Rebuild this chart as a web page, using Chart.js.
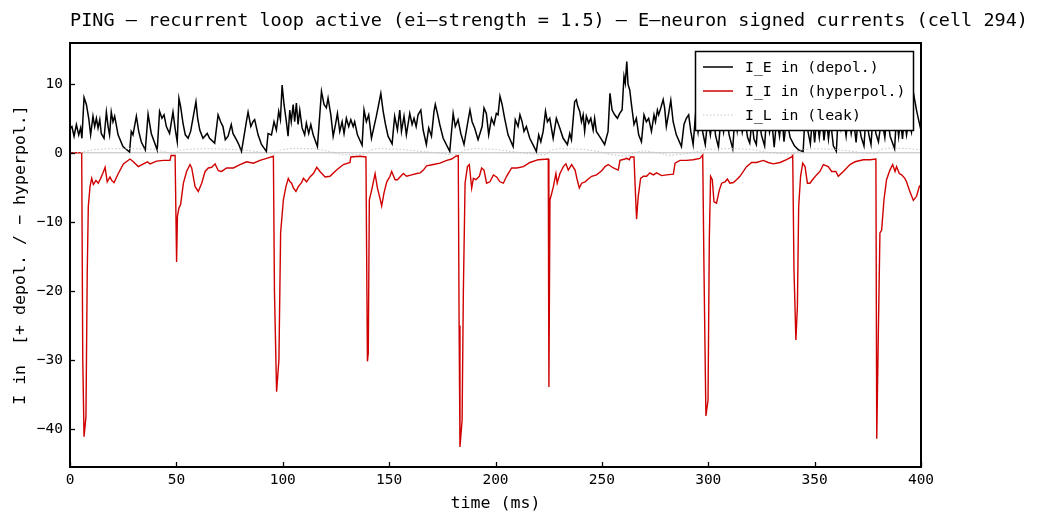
<!DOCTYPE html>
<html>
<head>
<meta charset="utf-8">
<script src="https://cdn.jsdelivr.net/npm/chart.js@4.4.1/dist/chart.umd.min.js"></script>
<style>
  html, body { margin: 0; padding: 0; background: #fff; }
  #wrap { width: 1039px; height: 525px; }
</style>
</head>
<body>
<div id="wrap"><canvas id="chart" width="1039" height="525"></canvas></div>
<script>
const xTicks = [0, 50, 100, 150, 200, 250, 300, 350, 400];
const yTicks = [-40, -30, -20, -10, 0, 10];

// I_E (depol.) - time (ms) / current
const ieTime = [0,0.9,1.9,3.0,4.1,5.0,5.6,6.6,7.7,8.8,9.7,10.8,11.6,12.4,13.2,14.0,14.7,16.0,17.1,17.9,18.6,19.4,20.2,21.0,22.6,24.9,28.0,28.8,29.6,31.2,32.3,33.5,35.4,36.7,38.2,41.0,42.1,43.2,44.2,45.3,46.8,48.4,49.5,50.4,51.2,52.0,53.1,54.2,55.5,56.7,59.2,60.0,61.0,62.5,64.5,65.6,68.0,69.6,70.8,71.9,73.0,74.3,75.8,76.6,78.2,79.2,80.6,81.8,82.9,83.7,85.0,86.0,86.8,88.4,90.0,92.3,93.1,94.7,95.9,97.0,98.1,98.9,99.7,100.6,101.7,102.5,103.3,104.0,104.9,105.6,106.4,107.2,108.0,109.1,110.3,111.1,112.2,113.2,114.3,116.3,117.4,118.2,119.4,120.5,121.3,122.6,123.7,124.8,125.7,126.8,127.9,128.8,129.9,131.0,132.0,133.1,133.8,135.1,137.3,138.2,139.3,140.4,141.7,142.9,144.0,145.1,146.1,147.2,148.3,149.5,151.4,152.6,153.9,155.0,155.8,157.0,158.1,159.7,160.8,161.7,162.7,163.6,164.9,166.0,167.5,168.6,169.9,171.1,171.7,172.7,173.8,175.4,178.5,180.1,181.1,182.4,183.7,185.2,186.8,188.0,189.0,190.2,191.8,193.7,194.6,195.7,196.8,198.1,199.3,200.4,201.2,202.1,203.1,204.3,205.9,208.3,209.3,210.6,211.5,212.5,213.4,214.5,216.1,219.2,220.3,221.3,222.4,223.5,224.4,225.5,227.1,228.6,230.2,231.8,233.8,234.9,235.7,237.2,238.0,238.6,239.6,240.4,241.2,241.9,242.7,243.8,244.8,245.9,246.6,247.4,249.5,251.3,252.9,253.8,254.8,256.0,257.3,258.4,259.5,260.4,261.0,261.7,262.3,263.1,263.9,265.1,266.2,267.3,268.6,269.8,270.9,272.0,273.3,274.5,275.2,276.1,276.7,277.7,278.8,279.5,280.3,281.4,282.4,283.5,285.0,287.4,288.6,289.7,290.8,291.8,292.9,294.0,295.2,296.3,297.5,298.6,299.8,301.0,302.2,303.5,304.8,306.0,307.2,308.3,309.8,311.5,312.6,313.6,314.7,316.0,317.2,318.5,319.5,320.5,321.5,322.6,323.6,325.0,326.5,327.5,328.8,329.8,331.0,332.2,333.5,334.6,335.6,336.8,338.5,340.5,342.5,344.6,345.6,346.8,348.0,349.0,350.0,351.0,352.2,353.4,354.4,355.5,356.5,357.5,358.8,360.2,361.2,362.4,363.5,364.8,366.0,367.2,368.3,369.5,370.5,371.8,373.2,374.2,375.5,376.5,377.5,378.8,380.0,381.5,383.0,384.0,385.5,387.6,388.5,389.5,390.4,391.3,392.2,393.2,394.2,395.5,396.6,398.0,400.0];
const ieValues = [3.5,3.8,2.4,4.1,2.6,3.6,2.1,8.0,7.0,5.0,2.6,5.3,3.8,5.0,3.6,4.8,2.8,2.1,5.9,3.8,2.6,5.9,4.5,5.3,2.6,0.9,0.1,3.1,2.6,5.3,3.1,1.6,0.4,5.6,2.8,0.4,6.0,5.0,5.5,3.8,2.8,5.9,3.3,1.6,7.9,6.7,4.3,2.6,2.1,3.1,7.4,5.0,3.3,2.1,2.8,2.1,1.4,5.5,4.5,3.8,1.9,2.4,4.1,2.8,1.9,1.3,0.2,2.4,4.5,5.9,3.8,4.5,4.8,2.6,1.2,0.2,2.8,2.6,4.5,3.3,6.0,4.8,9.8,7.0,4.5,2.4,6.2,4.5,7.0,4.5,7.2,4.1,6.2,3.6,2.6,4.3,2.8,4.1,2.6,0.9,5.5,8.9,7.0,6.5,7.9,5.5,2.4,4.1,5.7,3.1,4.5,2.8,5.0,3.8,4.8,3.8,4.5,2.6,1.1,6.2,4.5,5.5,2.1,3.8,5.3,7.0,8.6,6.0,4.1,2.4,1.3,5.3,3.3,6.2,3.1,5.3,2.6,5.7,4.1,5.0,3.8,5.5,6.2,3.3,1.2,3.6,2.4,6.0,7.0,5.7,4.1,2.1,0.2,5.7,3.8,4.8,2.8,1.2,4.1,6.2,4.5,3.6,1.9,3.8,6.5,5.7,2.6,5.0,4.1,5.7,5.5,8.2,7.0,5.0,2.6,0.9,4.8,3.8,5.5,4.5,3.1,3.8,2.1,0.2,2.6,1.6,3.1,6.0,4.5,5.0,2.1,5.0,3.6,2.1,1.2,2.8,1.9,7.4,7.7,6.8,6.0,4.5,5.5,3.1,5.3,4.3,5.0,3.3,5.0,3.1,2.1,1.2,3.1,8.6,6.2,5.5,5.0,5.7,6.2,11.1,10.1,13.2,9.9,9.1,7.0,4.1,5.0,2.6,1.6,5.5,4.5,5.0,3.1,5.5,4.5,6.2,5.5,6.5,7.7,6.5,3.8,5.7,7.6,4.5,2.6,0.9,4.1,5.0,5.5,3.1,1.2,5.5,3.0,6.0,2.8,1.2,5.0,2.6,5.5,2.4,0.8,5.2,3.0,6.0,2.6,0.6,5.5,3.2,6.3,3.0,5.0,2.2,1.4,4.5,2.0,1.2,5.5,2.6,1.0,5.8,3.0,4.8,0.8,5.0,2.4,5.5,1.6,5.0,2.2,1.0,0.4,0.2,6.0,3.2,1.3,5.2,1.5,5.0,2.2,5.5,1.8,5.0,2.0,4.6,1.0,0.2,6.0,3.5,5.5,2.4,5.8,2.8,4.8,1.5,5.2,2.4,1.0,5.5,2.6,1.2,5.6,2.8,1.6,5.0,2.2,5.5,2.4,0.6,5.5,2.4,4.8,2.0,5.2,2.6,4.5,3.0,8.4,6.0,3.2];

// I_I (hyperpol.)
const iiTime = [0,5.5,6.0,6.6,7.5,8.1,8.6,9.4,10.2,11.0,12.2,13.3,14.4,15.4,16.5,17.5,18.8,19.6,20.7,22.7,25.1,28.2,29.8,32.1,34.5,36.4,37.6,40.7,43.9,47.0,47.5,49.4,50.1,50.5,51.2,52.0,53.3,54.8,56.4,57.2,58.8,60.3,61.9,63.5,65.0,66.6,68.2,69.7,71.3,73.6,76.8,79.9,83.0,86.2,89.3,92.4,95.6,96.1,97.1,98.2,99.0,100.3,101.5,102.6,103.4,104.2,105.0,106.2,107.3,108.9,109.7,111.2,112.8,114.4,116.0,117.5,119.9,122.2,125.3,128.5,131.6,132.0,136.3,139.1,139.8,140.2,140.7,141.8,143.4,144.5,145.7,146.5,147.6,148.9,150.4,151.2,152.8,153.9,155.1,156.7,158.2,160.6,163.0,164.6,166.1,167.6,170.8,173.9,177.1,179.4,181.4,182.5,182.9,183.3,184.3,184.9,185.7,186.8,187.7,188.8,189.6,190.8,192.4,193.5,194.6,195.8,197.4,199.0,200.5,202.1,203.7,205.2,207.6,210.0,213.1,216.2,220.1,224.8,225.1,225.6,226.4,227.2,228.4,229.0,230.3,231.9,233.1,234.2,235.8,237.4,238.4,239.4,240.5,242.1,243.6,245.2,247.5,249.9,251.5,253.0,255.4,257.7,258.5,260.8,261.6,262.9,263.5,265.1,265.6,266.3,267.1,268.2,269.5,271.0,272.6,274.2,275.7,278.1,280.4,283.6,284.4,286.7,289.8,292.9,296.1,297.4,298.0,298.9,299.9,300.5,301.1,301.9,302.7,303.9,305.2,306.3,307.9,309.0,310.2,311.8,313.3,314.9,318.0,320.4,322.7,325.9,328.2,330.6,333.7,336.8,339.2,339.7,340.3,341.2,341.9,342.5,343.4,344.4,345.5,346.6,347.8,349.0,350.9,352.5,354.1,356.4,358.0,360.0,361.1,363.5,366.6,369.0,372.9,376.0,378.8,379.2,379.9,380.7,381.5,382.6,383.8,385.4,386.7,387.8,388.5,389.8,390.9,392.4,393.2,394.5,396.4,397.9,399.2,400.0];
const iiValues = [0,0,-30,-41.1,-38.2,-17.4,-7.8,-4.9,-3.7,-4.6,-4.0,-4.4,-3.7,-3.0,-2.1,-4.2,-3.5,-4.0,-4.3,-3.0,-1.6,-0.9,-1.3,-2.0,-1.6,-1.3,-1.6,-1.2,-1.1,-1.1,-0.4,-0.4,-15.8,-9.2,-8.0,-7.5,-4.4,-2.7,-1.7,-2.2,-4.9,-5.6,-4.4,-2.7,-2.2,-2.1,-1.6,-2.6,-2.7,-2.2,-2.2,-1.7,-1.3,-1.5,-1.1,-0.8,-0.5,-20,-34.6,-30.0,-11.6,-6.8,-4.9,-3.7,-4.2,-4.4,-5.1,-5.6,-4.9,-4.3,-3.7,-4.2,-3.5,-3.0,-2.1,-2.7,-3.5,-3.4,-2.5,-1.7,-1.4,-0.6,-0.5,-0.6,-30.2,-29.0,-6.8,-5.4,-3.0,-5.1,-6.6,-7.7,-5.8,-4.2,-3.4,-2.7,-3.9,-3.9,-3.5,-3.0,-3.4,-3.2,-3.0,-2.9,-2.5,-1.9,-1.7,-1.5,-1.1,-0.9,-0.5,-0.4,-25,-42.6,-38.7,-19.9,-4.4,-2.0,-1.7,-5.1,-3.7,-3.9,-3.4,-2.2,-2.5,-4.4,-4.2,-3.2,-3.5,-4.2,-4.4,-3.4,-2.2,-2.2,-2.0,-1.4,-1.0,-0.9,-33.9,-6.8,-5.9,-4.9,-3.0,-4.4,-3.0,-2.0,-1.6,-2.5,-1.7,-2.5,-3.9,-5.1,-4.4,-4.2,-3.8,-3.4,-3.2,-2.6,-2.0,-1.7,-2.2,-2.5,-1.1,-0.9,-0.8,-1.0,-0.6,-0.6,-4.5,-9.6,-6.3,-3.7,-3.4,-3.4,-2.9,-3.2,-2.9,-3.3,-3.2,-3.1,-1.5,-1.1,-1.1,-1.0,-0.8,-0.3,-17,-38.1,-35.8,-12.6,-3.4,-3.9,-7.1,-7.3,-5.4,-4.4,-4.2,-3.8,-4.4,-4.3,-3.9,-3.4,-2.0,-1.4,-1.4,-1.1,-1.4,-1.6,-1.4,-1.0,-0.6,-0.4,-17,-27.1,-22.3,-7.8,-3.4,-1.5,-2.0,-4.4,-4.4,-3.9,-3.2,-2.7,-1.7,-2.0,-2.7,-2.7,-3.4,-2.7,-1.7,-1.3,-1.0,-1.0,-0.9,-41.4,-27.1,-11.6,-11.2,-6.8,-3.9,-2.5,-1.7,-2.7,-2.0,-3.0,-3.2,-3.7,-4.2,-5.4,-6.9,-6.3,-4.9,-4.6];

// I_L (leak)
const ilTime = [0,5,7,10,15,20,30,40,45,49,51,55,65,75,85,92,96,99,103,115,122,128,135,139,141,145,155,165,172,180,183,185,190,200,210,218,224,226,230,242,248,255,262,266,270,276,282,290,297,300,310,320,325,333,340,343,350,360,368,375,379,381,386,395,400];
const ilValues = [0,0,0.2,0.4,0.55,0.6,0.6,0.5,0.1,-0.2,0.3,0.5,0.6,0.5,0.3,0,-0.2,0.4,0.6,0.6,0.2,-0.3,-0.3,-0.2,0.4,0.6,0.5,0.2,0,-0.3,-0.2,0.4,0.6,0.5,0.1,-0.2,-0.3,0.4,0.6,0.5,0.2,-0.3,-0.5,0.1,0.3,0,-0.4,-0.1,0.3,0.5,0.6,0.5,0.2,-0.1,-0.2,0.4,0.6,0.5,0.2,-0.1,-0.2,0.5,0.7,0.6,0.4];

const zeroTime = [0, 400];
const zeroValues = [0, 0];

const legendLabels = ["I_E in (depol.)", "I_I in (hyperpol.)", "I_L in (leak)"];
const titleText = "PING – recurrent loop active (ei–strength = 1.5) – E–neuron signed currents (cell 294)";
const xLabel = "time (ms)";
const yLabel = "I in  [+ depol. / − hyperpol.]";

const FONT = "'DejaVu Sans Mono', monospace";
const RED = "#d00000";

const pts = (ts, vs) => ts.map((t, i) => ({ x: t, y: vs[i] }));

const framePlugin = {
  id: "frame",
  afterDraw(chart) {
    const { ctx, chartArea: a, scales } = chart;
    ctx.save();
    // inward ticks
    ctx.strokeStyle = "#000";
    ctx.lineWidth = 1.3;
    xTicks.forEach((v) => {
      const px = Math.round(scales.x.getPixelForValue(v)) + 0.5;
      ctx.beginPath();
      ctx.moveTo(px, a.bottom);
      ctx.lineTo(px, a.bottom - 5);
      ctx.stroke();
    });
    yTicks.forEach((v) => {
      const py = Math.round(scales.y.getPixelForValue(v)) + 0.5;
      ctx.beginPath();
      ctx.moveTo(a.left, py);
      ctx.lineTo(a.left + 5, py);
      ctx.stroke();
    });
    // box
    ctx.lineWidth = 2;
    ctx.strokeRect(a.left, a.top, a.right - a.left, a.bottom - a.top);

    // legend
    const lx = 695.5, ly = 51.5, lw = 218, lh = 79;
    ctx.fillStyle = "#fff";
    ctx.fillRect(lx, ly, lw, lh);
    ctx.lineWidth = 1.5;
    ctx.strokeStyle = "#000";
    ctx.strokeRect(lx, ly, lw, lh);
    const styles = [
      { color: "#000", dash: [], width: 1.5 },
      { color: RED, dash: [], width: 1.5 },
      { color: "#c4c4c4", dash: [1.5, 2], width: 1 },
    ];
    ctx.font = "14.8px " + FONT;
    ctx.textBaseline = "middle";
    ctx.textAlign = "left";
    legendLabels.forEach((lab, i) => {
      const y = 67 + i * 24;
      ctx.strokeStyle = styles[i].color;
      ctx.lineWidth = styles[i].width;
      ctx.setLineDash(styles[i].dash);
      ctx.beginPath();
      ctx.moveTo(703, y);
      ctx.lineTo(733, y);
      ctx.stroke();
      ctx.setLineDash([]);
      ctx.fillStyle = "#000";
      ctx.fillText(lab, 745, y + 1);
    });

    // title and axis labels
    ctx.fillStyle = "#000";
    ctx.textAlign = "center";
    ctx.font = "18.5px " + FONT;
    ctx.fillText(titleText, 549, 21);
    ctx.font = "16.6px " + FONT;
    ctx.fillText(xLabel, (a.left + a.right) / 2, 504);
    ctx.translate(21, (a.top + a.bottom) / 2);
    ctx.rotate(-Math.PI / 2);
    ctx.fillText(yLabel, 0, 0);
    ctx.restore();
  },
};

const tickFont = { family: FONT, size: 14.5 };
const fmt = (v) => (v < 0 ? "−" + Math.abs(v) : "" + v);

new Chart(document.getElementById("chart"), {
  type: "line",
  data: {
    datasets: [
      {
        label: "zero",
        data: pts(zeroTime, zeroValues),
        borderColor: "#bdbdbd",
        borderWidth: 1,
        pointRadius: 0,
        order: 4,
      },
      {
        label: legendLabels[0],
        data: pts(ieTime, ieValues),
        borderColor: "#000",
        borderWidth: 1.5,
        pointRadius: 0,
        order: 3,
      },
      {
        label: legendLabels[1],
        data: pts(iiTime, iiValues),
        borderColor: RED,
        borderWidth: 1.4,
        pointRadius: 0,
        order: 2,
      },
      {
        label: legendLabels[2],
        data: pts(ilTime, ilValues),
        borderColor: "#c4c4c4",
        borderWidth: 1,
        borderDash: [1.5, 2],
        pointRadius: 0,
        order: 1,
      },
    ],
  },
  options: {
    responsive: false,
    animation: false,
    events: [],
    layout: { padding: { top: 43, right: 118, left: 0, bottom: 0 } },
    plugins: {
      legend: { display: false },
      title: { display: false },
      tooltip: { enabled: false },
    },
    scales: {
      x: {
        type: "linear",
        min: 0,
        max: 400,
        afterBuildTicks: (s) => { s.ticks = xTicks.map((v) => ({ value: v })); },
        afterFit: (s) => { s.height = 58; },
        grid: { display: false, drawTicks: false },
        border: { display: false },
        ticks: { font: tickFont, color: "#000", padding: 5, maxRotation: 0, callback: fmt },
      },
      y: {
        type: "linear",
        min: -45.5,
        max: 15.9,
        afterBuildTicks: (s) => { s.ticks = yTicks.map((v) => ({ value: v })); },
        afterFit: (s) => { s.width = 70; },
        grid: { display: false, drawTicks: false },
        border: { display: false },
        ticks: { font: tickFont, color: "#000", padding: 7, callback: fmt },
      },
    },
  },
  plugins: [framePlugin],
});
</script>
</body>
</html>
